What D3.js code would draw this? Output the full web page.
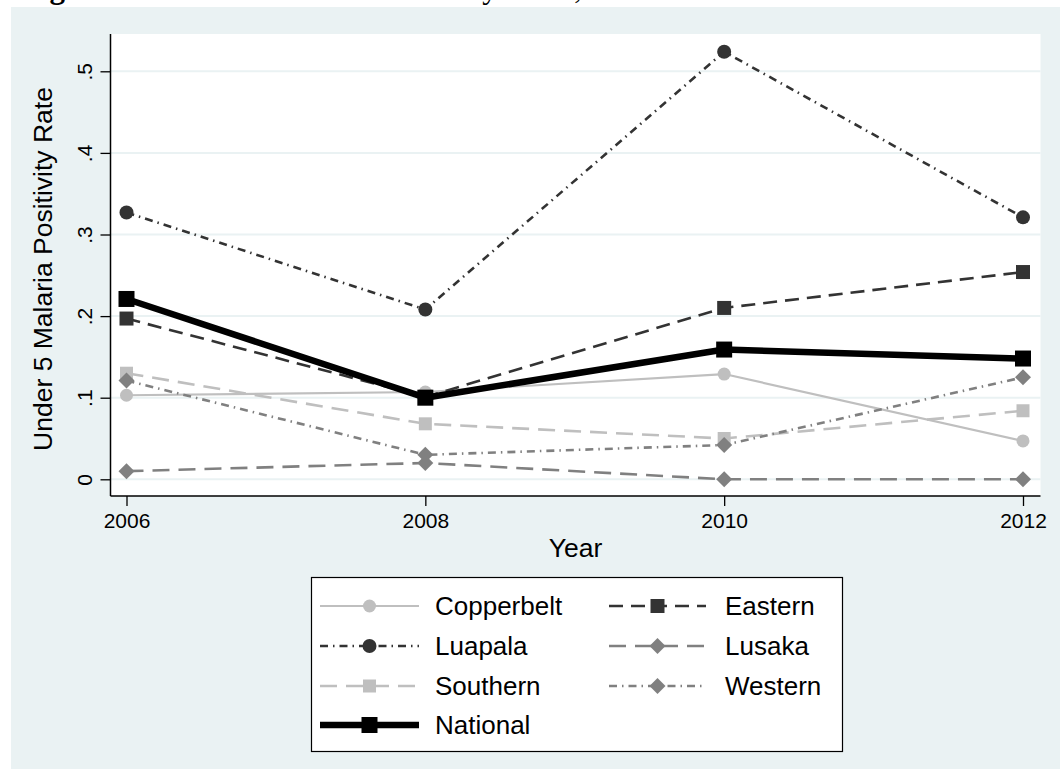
<!DOCTYPE html>
<html>
<head>
<meta charset="utf-8">
<script src="https://cdn.jsdelivr.net/npm/d3@7/dist/d3.min.js"></script>
<style>
  html, body { margin: 0; padding: 0; background: #ffffff; }
  svg { display: block; }
  text { font-family: "Liberation Sans", Arial, Helvetica, sans-serif; fill: #000; }
</style>
</head>
<body>
<svg id="chart" width="1060" height="769"></svg>
<script>
// Survey years and under-5 malaria positivity rates by province
const years = [2006, 2008, 2010, 2012];
const copperbelt = [0.103, 0.107, 0.129, 0.047];
const eastern    = [0.197, 0.101, 0.210, 0.254];
const luapala    = [0.327, 0.208, 0.524, 0.321];
const lusaka     = [0.010, 0.020, 0.000, 0.000];
const southern   = [0.130, 0.068, 0.050, 0.084];
const western    = [0.121, 0.030, 0.042, 0.125];
const national   = [0.221, 0.100, 0.159, 0.148];

const xTicks = [2006, 2008, 2010, 2012];
const yTicks = [0, 0.1, 0.2, 0.3, 0.4, 0.5];

// Drawing styles (Stata s2mono-like greys)
const series = [
  { name: "Copperbelt", values: copperbelt, color: "#bfbfbf", width: 2.2, dash: null,        shape: "circle",  size: 13 },
  { name: "Eastern",    values: eastern,    color: "#333333", width: 2.6, dash: "14,8",      shape: "square",  size: 14 },
  { name: "Luapala",    values: luapala,    color: "#333333", width: 2.6, dash: "8,5,1.5,5", shape: "circle",  size: 14 },
  { name: "Lusaka",     values: lusaka,     color: "#808080", width: 2.6, dash: "17,9",      shape: "diamond", size: 16 },
  { name: "Southern",   values: southern,   color: "#bfbfbf", width: 2.6, dash: "17,9",      shape: "square",  size: 13 },
  { name: "Western",    values: western,    color: "#808080", width: 2.6, dash: "8,5,1.5,5", shape: "diamond", size: 16 },
  { name: "National",   values: national,   color: "#000000", width: 6.5, dash: null,        shape: "square",  size: 16 }
];

const svg = d3.select("#chart");
const W = 1060, H = 769;

// Document caption sitting above the graph region (only its lowest strokes show)
const cap = svg.append("text")
  .attr("x", 22).attr("y", -2)
  .style("font-family", "'Liberation Serif', 'Times New Roman', serif")
  .style("font-size", "31px");
cap.append("tspan").style("font-weight", "bold").text("Figure 6:");
cap.append("tspan").text(" Trends in Malaria Positivity Rates, 2006-2012");

// Graph region background
svg.append("rect")
  .attr("x", 11).attr("y", 7)
  .attr("width", W - 11).attr("height", H - 7)
  .attr("fill", "#eaf2f3");

// Plot region
const plot = { left: 110.5, right: 1040.5, top: 34, bottom: 496 };

svg.append("rect")
  .attr("x", plot.left).attr("y", plot.top)
  .attr("width", plot.right - plot.left).attr("height", plot.bottom - plot.top)
  .attr("fill", "#ffffff");

const x = d3.scaleLinear().domain([2006, 2012]).range([126.5, 1023]);
const y = d3.scaleLinear().domain([0, 0.5]).range([479.3, 71.3]);

// Horizontal grid lines
svg.append("g")
  .selectAll("line")
  .data(yTicks)
  .join("line")
  .attr("x1", plot.left).attr("x2", plot.right)
  .attr("y1", d => y(d)).attr("y2", d => y(d))
  .attr("stroke", "#eaf2f3")
  .attr("stroke-width", 2);

// Y axis
const yAxis = svg.append("g")
  .attr("transform", `translate(${plot.left},0)`)
  .call(d3.axisLeft(y)
    .tickValues(yTicks)
    .tickSize(10)
    .tickSizeOuter(0)
    .tickFormat(d => d === 0 ? "0" : d3.format(".1f")(d).replace(/^0/, "")));
yAxis.select(".domain").remove();
yAxis.selectAll(".tick line").attr("stroke", "#000").attr("stroke-width", 1.3);
yAxis.selectAll(".tick text")
  .attr("x", null).attr("dy", null)
  .attr("text-anchor", "middle")
  .attr("transform", "translate(-18.5,0) rotate(-90)")
  .style("font-size", "21px")
  .style("font-family", "'Liberation Sans', Arial, sans-serif")
  .attr("fill", "#000");

// X axis
const xAxis = svg.append("g")
  .attr("transform", `translate(0,${plot.bottom})`)
  .call(d3.axisBottom(x)
    .tickValues(xTicks)
    .tickSize(10)
    .tickPadding(7)
    .tickSizeOuter(0)
    .tickFormat(d3.format("d")));
xAxis.select(".domain").remove();
xAxis.selectAll(".tick line").attr("stroke", "#000").attr("stroke-width", 1.3);
xAxis.selectAll(".tick text")
  .style("font-size", "21px")
  .style("font-family", "'Liberation Sans', Arial, sans-serif")
  .attr("fill", "#000");

// Axis lines spanning the plot region
svg.append("line")
  .attr("x1", plot.left).attr("x2", plot.left)
  .attr("y1", plot.top).attr("y2", plot.bottom)
  .attr("stroke", "#000").attr("stroke-width", 1.5);
svg.append("line")
  .attr("x1", plot.left).attr("x2", plot.right)
  .attr("y1", plot.bottom).attr("y2", plot.bottom)
  .attr("stroke", "#000").attr("stroke-width", 1.5);

// Axis titles
svg.append("text")
  .attr("x", (plot.left + plot.right) / 2).attr("y", 557)
  .attr("text-anchor", "middle")
  .style("font-size", "26.5px")
  .text("Year");
svg.append("text")
  .attr("transform", `translate(52,${(plot.top + plot.bottom) / 2 + 4}) rotate(-90)`)
  .attr("text-anchor", "middle")
  .style("font-size", "26.5px")
  .text("Under 5 Malaria Positivity Rate");

// Marker symbol builder
function markerPath(shape, size) {
  if (shape === "circle") return d3.symbol(d3.symbolCircle, Math.PI * (size / 2) ** 2)();
  if (shape === "square") return d3.symbol(d3.symbolSquare, size * size)();
  // diamond: square rotated 45 degrees, size is its diagonal
  const s = size / Math.SQRT2;
  return d3.symbol(d3.symbolSquare, s * s)();
}
function markerTransform(shape, px, py) {
  return shape === "diamond" ? `translate(${px},${py}) rotate(45)` : `translate(${px},${py})`;
}

const line = d3.line()
  .x((d, i) => x(years[i]))
  .y(d => y(d));

// Series lines and markers
const gSeries = svg.append("g");
series.forEach(s => {
  const g = gSeries.append("g");
  g.append("path")
    .datum(s.values)
    .attr("d", line)
    .attr("fill", "none")
    .attr("stroke", s.color)
    .attr("stroke-width", s.width)
    .attr("stroke-dasharray", s.dash)
    .attr("stroke-linejoin", "round");
  g.selectAll("path.mk")
    .data(s.values)
    .join("path")
    .attr("class", "mk")
    .attr("d", markerPath(s.shape, s.size))
    .attr("transform", (d, i) => markerTransform(s.shape, x(years[i]), y(d)))
    .attr("fill", s.color);
});

// Legend
const legend = { x: 311, y: 577, w: 531, h: 174 };
svg.append("rect")
  .attr("x", legend.x + 0.5).attr("y", legend.y + 0.5)
  .attr("width", legend.w).attr("height", legend.h)
  .attr("fill", "#ffffff")
  .attr("stroke", "#000").attr("stroke-width", 1.2);

const rowY = [606, 646, 686, 725];
const cols = [
  { x1: 320, x2: 419, text: 435 },
  { x1: 609, x2: 706, text: 725 }
];
series.forEach((s, i) => {
  const c = cols[i % 2];
  const ry = rowY[Math.floor(i / 2)];
  const g = svg.append("g");
  g.append("line")
    .attr("x1", c.x1).attr("x2", c.x2)
    .attr("y1", ry).attr("y2", ry)
    .attr("stroke", s.color)
    .attr("stroke-width", s.width)
    .attr("stroke-dasharray", s.dash);
  g.append("path")
    .attr("d", markerPath(s.shape, s.size))
    .attr("transform", markerTransform(s.shape, (c.x1 + c.x2) / 2, ry))
    .attr("fill", s.color);
  g.append("text")
    .attr("x", c.text).attr("y", ry)
    .attr("dy", "0.36em")
    .style("font-size", "26px")
    .text(s.name);
});
</script>
</body>
</html>
